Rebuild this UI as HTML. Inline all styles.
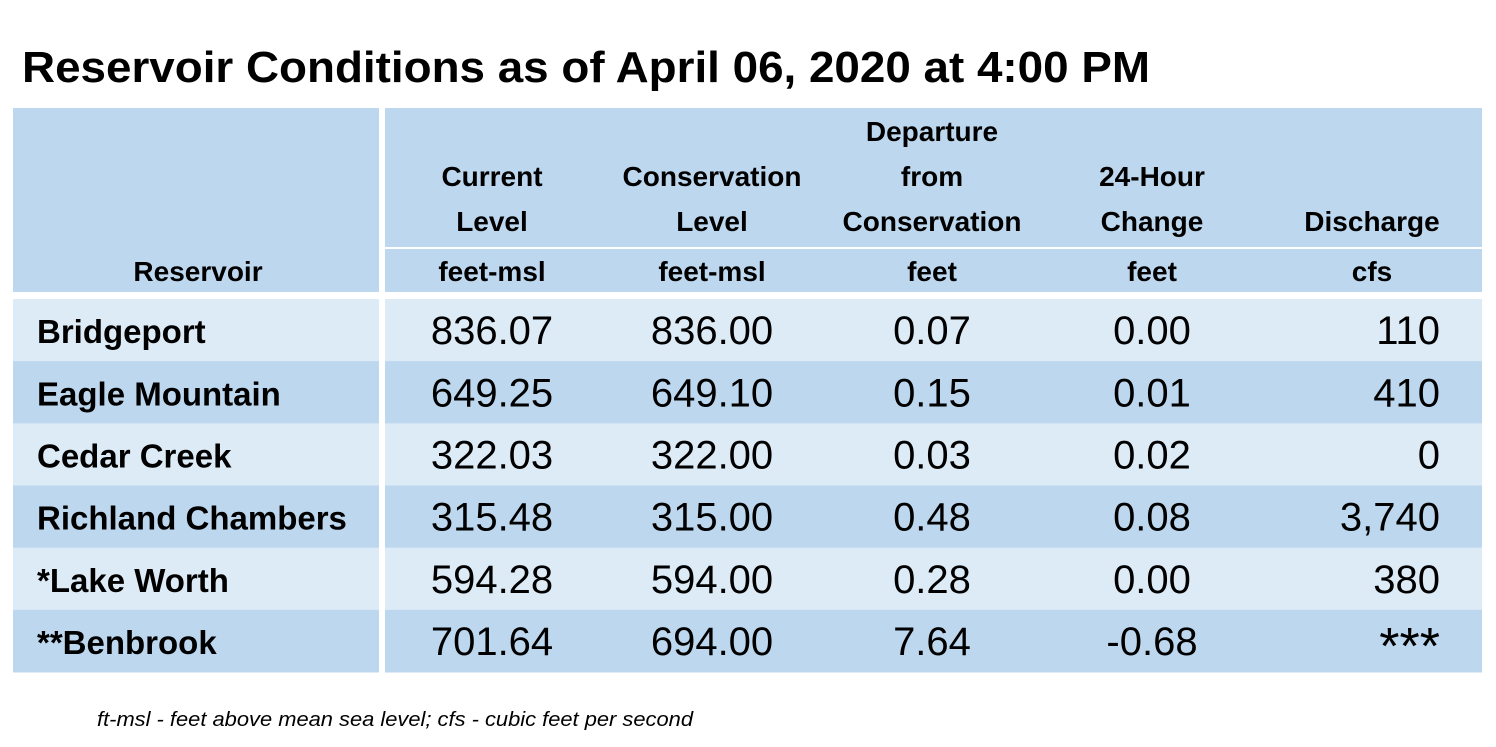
<!DOCTYPE html>
<html><head><meta charset="utf-8"><style>
html,body{margin:0;padding:0;background:#fff;}
svg{display:block;font-family:"Liberation Sans",sans-serif;}
</style></head><body>
<svg id="chart" width="1496" height="747" viewBox="0 0 1496 747" xmlns="http://www.w3.org/2000/svg">
<rect width="1496" height="747" fill="#fff"/>
<text x="22" y="82" font-size="44" font-weight="bold" textLength="1128" lengthAdjust="spacingAndGlyphs">Reservoir Conditions as of April 06, 2020 at 4:00 PM</text>
<g>
<rect x="13" y="108" width="366" height="184" fill="#bdd7ee"/>
<rect x="385" y="108" width="1097" height="139" fill="#bdd7ee"/>
<rect x="385" y="249" width="1097" height="43" fill="#bdd7ee"/>
<g font-weight="bold" font-size="28" text-anchor="middle">
<text x="198" y="281">Reservoir</text>
<text x="492" y="186">Current</text>
<text x="492" y="231">Level</text>
<text x="492" y="281">feet-msl</text>
<text x="712" y="186">Conservation</text>
<text x="712" y="231">Level</text>
<text x="712" y="281">feet-msl</text>
<text x="932" y="141">Departure</text>
<text x="932" y="186">from</text>
<text x="932" y="231">Conservation</text>
<text x="932" y="281">feet</text>
<text x="1152" y="186">24-Hour</text>
<text x="1152" y="231">Change</text>
<text x="1152" y="281">feet</text>
<text x="1372" y="231">Discharge</text>
<text x="1372" y="281">cfs</text>
</g>
</g>
<g id="rows"></g>
<text x="97" y="726" font-size="20" font-style="italic" textLength="596" lengthAdjust="spacingAndGlyphs">ft-msl - feet above mean sea level; cfs - cubic feet per second</text>
</svg>
<script>
const names = ["Bridgeport","Eagle Mountain","Cedar Creek","Richland Chambers","*Lake Worth","**Benbrook"];
const currentLevel = ["836.07","649.25","322.03","315.48","594.28","701.64"];
const conservationLevel = ["836.00","649.10","322.00","315.00","594.00","694.00"];
const departure = ["0.07","0.15","0.03","0.48","0.28","7.64"];
const change24 = ["0.00","0.01","0.02","0.08","0.00","-0.68"];
const discharge = ["110","410","0","3,740","380","***"];
const NS="http://www.w3.org/2000/svg";
const g=document.getElementById('rows');
const top0=299, rowH=(672-299)/6;
function mk(tag,attrs){const e=document.createElementNS(NS,tag);for(const k in attrs)e.setAttribute(k,attrs[k]);return e;}
names.forEach((n,i)=>{
  const y=top0+i*rowH;
  const fill=i%2===0?"#ddebf7":"#bdd7ee";
  const row=mk('g',{});
  
  
  row.appendChild(mk('rect',{x:13,y:y,width:366,height:rowH+0.5,fill:fill}));
  row.appendChild(mk('rect',{x:385,y:y,width:1097,height:rowH+0.5,fill:fill}));
  const by=y+rowH/2+13;
  const nt=mk('text',{x:37,y:by,'font-size':33,'font-weight':'bold'});nt.textContent=n;
  
  
  row.appendChild(nt);
  [[currentLevel,492],[conservationLevel,712],[departure,932],[change24,1152]].forEach(([arr,x])=>{
    const t=mk('text',{x:x,y:by+1,'font-size':40,'text-anchor':'middle'});t.textContent=arr[i];
    
    
    row.appendChild(t);
  });
  const isStar=discharge[i].indexOf('*')>=0;
  const d=mk('text',{x:1440,y:by+(isStar?10:1),'font-size':isStar?52:40,'text-anchor':'end'});d.textContent=discharge[i];
  
  
  row.appendChild(d);
  g.appendChild(row);
});
</script>
</body></html>
